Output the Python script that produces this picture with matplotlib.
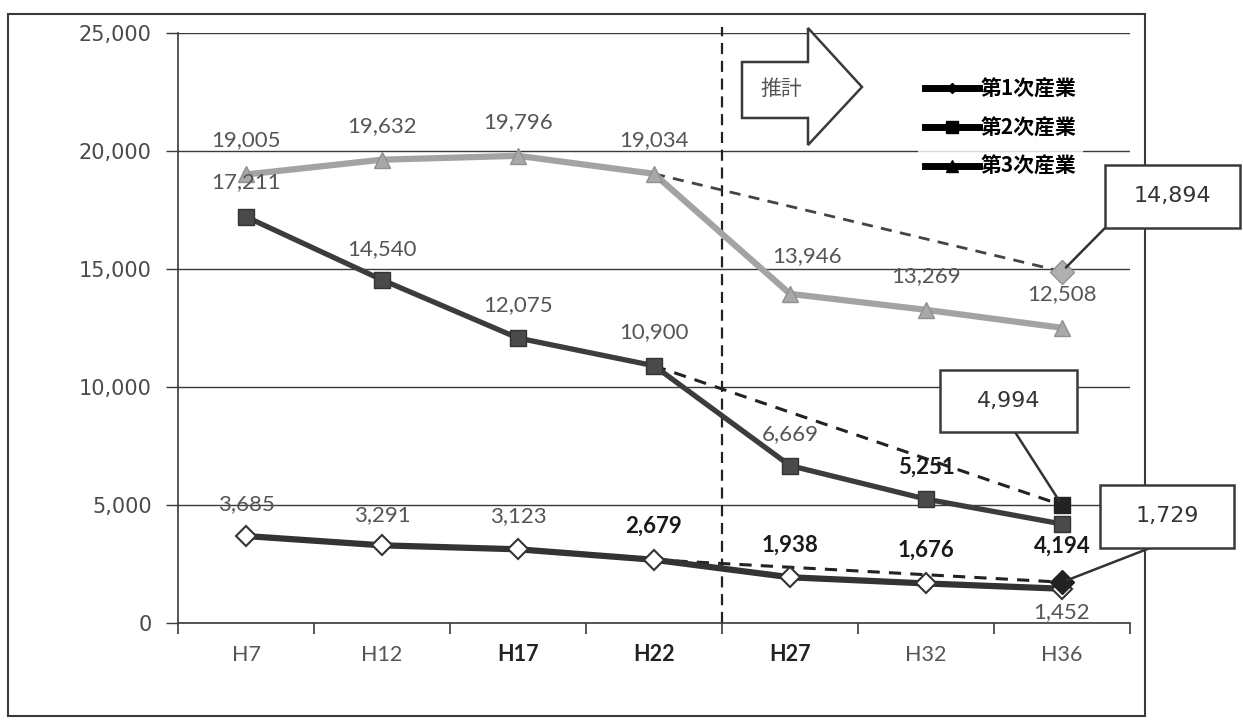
import matplotlib
matplotlib.use('Agg')
import matplotlib.pyplot as plt
from matplotlib.lines import Line2D
from matplotlib.patches import Polygon, Rectangle

# ---------------- data ----------------
categories = ['H7', 'H12', 'H17', 'H22', 'H27', 'H32', 'H36']
series_names = ['第1次産業', '第2次産業', '第3次産業']
primary = [3685, 3291, 3123, 2679, 1938, 1676, 1452]
secondary = [17211, 14540, 12075, 10900, 6669, 5251, 4194]
tertiary = [19005, 19632, 19796, 19034, 13946, 13269, 12508]
proj_cats = ['H22', 'H36']
proj_primary = [2679, 1729]
proj_secondary = [10900, 4994]
proj_tertiary = [19034, 14894]
yticks = [0, 5000, 10000, 15000, 20000, 25000]
forecast_label = '推計'

W, H = 1243, 722
fig = plt.figure(figsize=(W / 100, H / 100), dpi=100)
fig.patch.set_facecolor('white')
ax = fig.add_axes([178 / W, 1 - 623 / H, (1130 - 178) / W, (623 - 33) / H])

x = list(range(len(categories)))
px = [categories.index(c) for c in proj_cats]

GRID = '#3a3a3a'
C1, C2, C3 = '#333333', '#3c3c3c', '#a3a3a3'

ax.set_xlim(-0.5, len(categories) - 0.5)
ax.set_ylim(0, 25000)
ax.set_yticks(yticks)
ax.set_yticklabels([f'{v:,}' for v in yticks], fontsize=15, color='#4a4a4a',
                   family='DejaVu Sans')
for v in yticks:
    ax.axhline(v, color=GRID, lw=1.0, zorder=1)
ax.set_xticks([i - 0.5 for i in range(len(categories) + 1)])
ax.set_xticklabels([])
ax.tick_params(axis='x', length=8, width=1.2, color=GRID, direction='out')
ax.tick_params(axis='y', length=9, width=1.0, color=GRID, pad=10)
for s in ['top', 'right']:
    ax.spines[s].set_visible(False)
ax.spines['left'].set_color(GRID)
ax.spines['bottom'].set_color(GRID)
ax.spines['left'].set_linewidth(1.2)
ax.spines['bottom'].set_linewidth(1.2)

# category labels
cat_colors = ['#555555', '#555555', '#222222', '#222222', '#222222', '#555555', '#555555']
for i, c in enumerate(categories):
    ax.text(i, -1350, c, ha='center', va='center', fontsize=15.5, color=cat_colors[i],
            family='Lato', fontweight='bold' if cat_colors[i] == '#222222' else 'normal')

# forecast divider
ax.axvline(3.5, color='#222222', lw=1.6, ls=(0, (5, 3)), zorder=2, ymin=0, ymax=1.01,
           clip_on=False)

# projection dashed lines
ax.plot(px, proj_tertiary, color='#444444', lw=2, ls=(0, (4, 3)), zorder=3)
ax.plot(px, proj_secondary, color='#222222', lw=2.2, ls=(0, (4, 3)), zorder=3)
ax.plot(px, proj_primary, color='#222222', lw=2.2, ls=(0, (4, 3)), zorder=3)
ax.plot(px[1], proj_tertiary[1], marker='D', ms=12, color='#b0b0b0', mec='#909090', zorder=6)
ax.plot(px[1], proj_secondary[1], marker='s', ms=12, color='#222222', zorder=6)
ax.plot(px[1], proj_primary[1], marker='D', ms=12, color='#222222', zorder=6)

# main series
ax.plot(x, tertiary, color=C3, lw=4.5, marker='^', ms=12, mfc='#a8a8a8', mec='#909090', zorder=4)
ax.plot(x, secondary, color=C2, lw=3.8, marker='s', ms=12, mfc='#4a4a4a', mec='#333333', zorder=4)
ax.plot(x, primary, color=C1, lw=4.5, marker='D', ms=10, mfc='white', mec='#333333', mew=1.5, zorder=5)

# data labels
def lab(vals, offs, bold_idx=(), col='#555555'):
    for i, v in enumerate(vals):
        b = i in bold_idx
        ax.annotate(f'{v:,}', (i, v), xytext=offs[i], textcoords='offset points',
                    ha='center', va='center', fontsize=16, family='Lato',
                    color='#1a1a1a' if b else col, fontweight='bold' if b else 'normal',
                    zorder=7)

lab(tertiary, [(0, 25), (0, 24), (0, 24), (0, 24), (12, 27), (0, 24), (0, 24)])
lab(secondary, [(0, 25), (0, 22), (0, 24), (0, 24), (0, 23), (0, 23), (0, -16)],
    bold_idx=(5, 6))
lab(primary, [(0, 23), (0, 22), (0, 24), (0, 24), (0, 23), (0, 24), (0, -17)],
    bold_idx=(3, 4, 5))

# forecast arrow
pts = [(742, 62), (808, 62), (808, 28), (862, 87), (808, 145), (808, 118), (742, 118)]
fig.add_artist(Polygon([(a / W, 1 - b / H) for a, b in pts], closed=True, fc='white',
                       ec='#3a3a3a', lw=1.8, transform=fig.transFigure, zorder=8))
fig.text(781 / W, 1 - 89 / H, forecast_label, ha='center', va='center', fontsize=15,
         color='#555555', family='Noto Sans CJK JP', zorder=9)

# legend
handles = [
    Line2D([], [], color='black', lw=5, marker='D', ms=5, mfc='black'),
    Line2D([], [], color='black', lw=5, marker='s', ms=8, mfc='black'),
    Line2D([], [], color='black', lw=5, marker='^', ms=8, mfc='black'),
]
leg = fig.legend(handles, series_names, loc='upper left',
                 bbox_to_anchor=(908 / W, 1 - 62 / H), frameon=True, fancybox=False,
                 handlelength=2.6, handletextpad=0.1, labelspacing=0.85, borderpad=0.3,
                 prop={'family': 'Noto Sans CJK JP', 'weight': 'bold', 'size': 15})
leg.get_frame().set_edgecolor('none')
leg.get_frame().set_facecolor('white')
leg.set_zorder(9)

# outer frame
fig.add_artist(Rectangle((8 / W, 1 - 716 / H), (1145 - 8) / W, (716 - 14) / H, fill=False,
                         ec='#3a3a3a', lw=1.5, transform=fig.transFigure, zorder=0))

# callout boxes
def callout(text, box, anchor, target):
    x0, y0, x1, y1 = box
    fig.add_artist(Rectangle((x0 / W, 1 - y1 / H), (x1 - x0) / W, (y1 - y0) / H,
                             fc='white', ec='#3a3a3a', lw=1.8, transform=fig.transFigure,
                             zorder=10))
    fig.text((x0 + x1) / 2 / W, 1 - (y0 + y1) / 2 / H, text, ha='center', va='center',
             fontsize=16, color='#333333', family='DejaVu Sans', zorder=11)
    ax.annotate('', xy=target, xycoords='data', xytext=(anchor[0], H - anchor[1]),
                textcoords='figure pixels',
                arrowprops=dict(arrowstyle='-', color='#333333', lw=1.8,
                                shrinkA=0, shrinkB=4), zorder=10, annotation_clip=False)

callout(f'{proj_tertiary[1]:,}', (1105, 165, 1240, 228), (1105, 228), (px[1], proj_tertiary[1]))
callout(f'{proj_secondary[1]:,}', (940, 370, 1077, 432), (1015, 432), (px[1], proj_secondary[1]))
callout(f'{proj_primary[1]:,}', (1100, 485, 1234, 548), (1150, 548), (px[1], proj_primary[1]))

fig.savefig('out.png', dpi=100, facecolor='white')
